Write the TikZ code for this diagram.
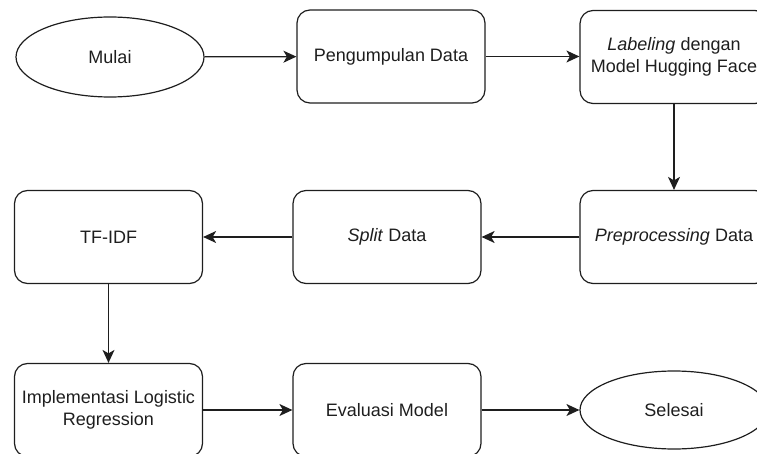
\documentclass[tikz,border=0pt]{standalone}
\usepackage{fontspec}
\setmainfont{Liberation Sans}
\usetikzlibrary{arrows.meta,shapes.geometric}
\definecolor{ink}{RGB}{30,30,30}
\tikzset{
  stepbox/.style={draw=ink, line width=1.2pt, rounded corners=13pt, minimum width=188pt, minimum height=93pt, inner sep=0pt, align=center, text=ink, font=\fontsize{18}{22.5}\selectfont},
  terminal/.style={draw=ink, line width=1.2pt, ellipse, minimum width=188pt, minimum height=80pt, inner sep=0pt, align=center, text=ink, font=\fontsize{18}{22.5}\selectfont},
  flow/.style={draw=ink, line width=1.2pt, -{Stealth[length=13pt,width=12pt,inset=3.5pt]}}
}
\begin{document}
\begin{tikzpicture}[x=1pt,y=-1pt]
\useasboundingbox (0,0) rectangle (757,454);
\clip (0,0) rectangle (757,454);
\node[terminal] (mulai) at (110,57) {Mulai};
\node[stepbox] (peng) at (391,56.5) {Pengumpulan Data};
\node[stepbox] (label) at (674,57) {\textit{Labeling} dengan\\Model Hugging Face};
\node[stepbox] (prep) at (674,237) {\textit{Preprocessing} Data};
\node[stepbox] (split) at (387,237) {\textit{Split} Data};
\node[stepbox] (tfidf) at (108.5,237) {TF-IDF};
\node[stepbox] (impl) at (108.5,410) {Implementasi Logistic\\Regression};
\node[stepbox] (eval) at (387,410) {Evaluasi Model};
\node[terminal, minimum height=78pt] (selesai) at (674,410) {Selesai};
\draw[flow] (mulai) -- (peng);
\draw[flow] (peng) -- (label.west |- peng.east);
\draw[flow] (label) -- (prep);
\draw[flow] (prep) -- (split);
\draw[flow] (split) -- (tfidf);
\draw[flow] (tfidf) -- (impl);
\draw[flow] (impl) -- (eval);
\draw[flow] (eval) -- (selesai);
\end{tikzpicture}
\end{document}
